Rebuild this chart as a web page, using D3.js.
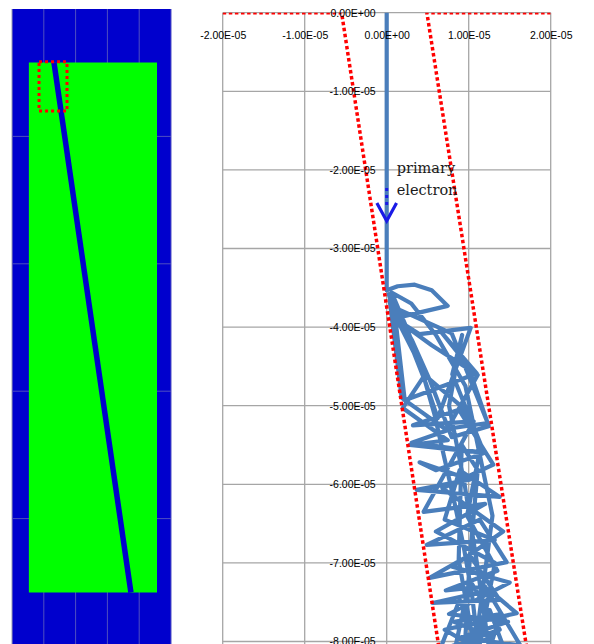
<!DOCTYPE html>
<html>
<head>
<meta charset="utf-8">
<script src="https://cdn.jsdelivr.net/npm/d3@7"></script>
<style>
  body { margin: 0; background: #fff; }
</style>
</head>
<body>
<svg id="chart" width="594" height="644"></svg>
<script>
// ---- data (trajectory coordinates in units of 1e-6) ----
const xTicks = [-20, -10, 0, 10, 20];
const yTicks = [0, -10, -20, -30, -40, -50, -60, -70, -80, -90];

const primary = [[0, 0], [0, -35.3]];

const trajectory = [
    [0, -35.3], [1.34, -34.8], [3.41, -34.6], [5.49, -35.3], [7.44, -37.3],
    [1.34, -38.8], [0.24, -35.8], [1.59, -39.7], [3.29, -43.2], [4.76, -47.1],
    [6.22, -51.6], [10.24, -40.1], [4.02, -40.9], [0.85, -38.8], [5.49, -42.3],
    [11.10, -46.1], [7.32, -53.1], [1.83, -49.0], [0.37, -36.6], [3.05, -41.6],
    [5.24, -46.7], [7.93, -54.0], [12.44, -52.6], [9.88, -44.8], [6.46, -40.4],
    [10.98, -45.9], [2.20, -49.3], [0.9, -37.5], [7.93, -40.8], [12.32, -52.2],
    [8.29, -52.8], [3.05, -54.7], [11.95, -56.0], [9.0, -50.0],
    [4.63, -46.1], [1.95, -50.3], [7.44, -54.4], [2.80, -55.0], [11.95, -56.0],
    [5.98, -58.2], [4.02, -57.2], [10.12, -59.4], [3.66, -60.7], [13.78, -61.6],
    [8.90, -58.2], [7.07, -64.5], [13.17, -67.1], [4.88, -67.7], [11.34, -64.5],
    [14.63, -69.9], [5.24, -71.9], [10.12, -69.0], [13.78, -74.7], [5.61, -75.1],
    [12.56, -73.5], [15.85, -76.4], [7.07, -78.5], [11.34, -81.1], [8.90, -74.7],
    [6.46, -81.1], [13.78, -78.5], [10.12, -72.2], [8.29, -81.1], [14.39, -81.1],
    [12.56, -76.0], [9.51, -81.1], [10.12, -69.6], [11.10, -58.2], [9.15, -55.0],
    [8.78, -69.6], [10.73, -81.1], [12.9, -64.0], [9.6, -47.5], [6.0, -41.0],
    [3.0, -37.0], [0.6, -35.6], [2.6, -40.5], [4.3, -45.5], [5.8, -51.0],
    [7.0, -56.5], [8.2, -62.0], [9.4, -68.0], [10.4, -74.0], [11.2, -81.1],
    [13.2, -70.0], [6.0, -66.0], [12.0, -62.5], [4.5, -63.5], [10.6, -52.0],
    [3.2, -52.5], [8.8, -50.5], [13.0, -57.5], [6.8, -60.5], [14.2, -66.0],
    [8.0, -70.5], [15.0, -72.5], [7.6, -76.5], [14.8, -77.5], [9.0, -79.5],
    [16.3, -80.5], [12.0, -73.0], [7.2, -73.5], [13.5, -71.0], [9.8, -64.0],
    [11.5, -55.0], [8.0, -46.0], [9.2, -41.0], [7.6, -50.0], [9.5, -60.0],
    [11.0, -70.0], [12.5, -81.1], [13.9, -76.5], [8.2, -77.5], [13.0, -79.5],
    [7.5, -81.1]
];

const bandLeft = [[-20, 0], [-5.5, 0], [6.4, -81]];
const bandRight = [[20, 0], [4.9, 0], [17.1, -81]];

const arrowShaft = [[0, -22.3], [0, -24.6]];
const arrowHead = [[-1.2, -24.2], [0, -26.5], [1.2, -24.2]];
const noteLines = ['primary', 'electron'];
const noteAnchor = [1.22, -20.4];

// left picture: geometry snapshot on a 5 x 5 grid
const geoCols = [0, 1, 2, 3, 4, 5];
const geoRows = [0, 1, 2, 3, 4, 5];
const slab = { x0: 0.53, x1: 4.56, y0: 0.42, y1: 4.58 };
const beam = [[1.32, 0.42], [3.74, 4.58]];
const zoomBox = { x0: 0.85, x1: 1.73, y0: 0.415, y1: 0.80 };

function fmtSci(v) {
    let s = (v * 1e-6).toExponential(2);
    let [m, e] = s.split('e');
    let n = +e;
    return m + 'E' + (n < 0 ? '-' : '+') + String(Math.abs(n)).padStart(2, '0');
}

let svg = d3.select('#chart');

// ---------- left picture ----------
let gx = d3.scaleLinear().domain([0, 5]).range([12, 171]);
let gy = d3.scaleLinear().domain([0, 5]).range([9, 646]);

let left = svg.append('g');

left.append('rect')
    .attr('x', gx(0)).attr('y', gy(0))
    .attr('width', gx(5) - gx(0)).attr('height', gy(5) - gy(0))
    .attr('fill', '#0000cd');

left.selectAll('line.gcol')
    .data(geoCols)
    .enter()
    .append('line')
    .attr('class', 'gcol')
    .attr('x1', d => gx(d)).attr('x2', d => gx(d))
    .attr('y1', gy(0)).attr('y2', gy(5))
    .style('stroke', d => d == 0 ? '#9a9ab0' : '#4f4fc0')
    .style('stroke-width', 1);

left.selectAll('line.grow')
    .data(geoRows.slice(1))
    .enter()
    .append('line')
    .attr('class', 'grow')
    .attr('x1', gx(0)).attr('x2', gx(5))
    .attr('y1', d => gy(d)).attr('y2', d => gy(d))
    .style('stroke', '#4f4fc0')
    .style('stroke-width', 1);

left.append('rect')
    .attr('x', gx(slab.x0)).attr('y', gy(slab.y0))
    .attr('width', gx(slab.x1) - gx(slab.x0))
    .attr('height', gy(slab.y1) - gy(slab.y0))
    .attr('fill', '#00ff00');

left.append('line')
    .attr('x1', gx(beam[0][0])).attr('y1', gy(beam[0][1]))
    .attr('x2', gx(beam[1][0])).attr('y2', gy(beam[1][1]))
    .style('stroke', '#0000cd')
    .style('stroke-width', 5.5);

left.append('rect')
    .attr('x', gx(zoomBox.x0)).attr('y', gy(zoomBox.y0))
    .attr('width', gx(zoomBox.x1) - gx(zoomBox.x0))
    .attr('height', gy(zoomBox.y1) - gy(zoomBox.y0))
    .attr('fill', 'none')
    .style('stroke', '#ff0000')
    .style('stroke-width', 3)
    .style('stroke-dasharray', '3,3');

// ---------- right chart ----------
let x = d3.scaleLinear().domain([-20, 20]).range([222.7, 550.7]);
let y = d3.scaleLinear().domain([0, -90]).range([12.7, 720.1]);

let plot = svg.append('g');

plot.append('clipPath').attr('id', 'plotclip')
    .append('rect')
    .attr('x', x(-20)).attr('y', y(0))
    .attr('width', x(20) - x(-20)).attr('height', y(-90) - y(0));

plot.selectAll('line.vgrid')
    .data(xTicks)
    .enter()
    .append('line')
    .attr('class', 'vgrid')
    .attr('x1', d => x(d)).attr('x2', d => x(d))
    .attr('y1', y(0)).attr('y2', y(-90))
    .style('stroke', '#a6a6a6')
    .style('stroke-width', 1.3);

plot.selectAll('line.hgrid')
    .data(yTicks)
    .enter()
    .append('line')
    .attr('class', 'hgrid')
    .attr('x1', x(-20)).attr('x2', x(20))
    .attr('y1', d => y(d)).attr('y2', d => y(d))
    .style('stroke', '#a6a6a6')
    .style('stroke-width', 1.3);

let line = d3.line().x(d => x(d[0])).y(d => y(d[1]));

let series = plot.append('g').attr('clip-path', 'url(#plotclip)');

[primary, trajectory].forEach(pts => {
    series.append('path')
        .attr('d', line(pts))
        .attr('fill', 'none')
        .style('stroke', '#4a7ebb')
        .style('stroke-width', 4.2)
        .style('stroke-linejoin', 'round')
        .style('stroke-linecap', 'round');
});

[bandLeft, bandRight].forEach(pts => {
    series.append('path')
        .attr('d', line(pts))
        .attr('fill', 'none')
        .style('stroke', '#ff0000')
        .style('stroke-width', 3.5)
        .style('stroke-dasharray', '3.5,2.6');
});

// axis labels
let xAxis = d3.axisBottom(x)
    .tickValues(xTicks)
    .tickSize(0)
    .tickPadding(19)
    .tickFormat(fmtSci);

let yAxis = d3.axisLeft(y)
    .tickValues(yTicks)
    .tickSize(0)
    .tickPadding(11)
    .tickFormat(fmtSci);

let gxAxis = plot.append('g').attr('transform', `translate(0,${y(0)})`).call(xAxis);
let gyAxis = plot.append('g').attr('transform', `translate(${x(0)},0)`).call(yAxis);

[gxAxis, gyAxis].forEach(g => {
    g.select('.domain').remove();
    g.selectAll('text')
        .style('font-family', '"Liberation Sans", Arial, sans-serif')
        .style('font-size', '10.5px')
        .attr('fill', '#000');
});

// annotation
plot.append('path')
    .attr('d', line(arrowShaft))
    .attr('fill', 'none')
    .style('stroke', '#1a1ae6')
    .style('stroke-width', 3)
    .style('stroke-dasharray', '3,4');

plot.append('path')
    .attr('d', line(arrowHead))
    .attr('fill', 'none')
    .style('stroke', '#1a1ae6')
    .style('stroke-width', 3.2)
    .style('stroke-linejoin', 'miter');

plot.append('text')
    .attr('x', x(noteAnchor[0]))
    .attr('y', y(noteAnchor[1]))
    .style('font-family', '"DejaVu Serif", serif')
    .style('font-size', '14.5px')
    .attr('fill', '#1a1a1a')
    .selectAll('tspan')
    .data(noteLines)
    .enter()
    .append('tspan')
    .attr('x', x(noteAnchor[0]))
    .attr('dy', (d, i) => i == 0 ? 0 : 22)
    .text(d => d);
</script>
</body>
</html>
